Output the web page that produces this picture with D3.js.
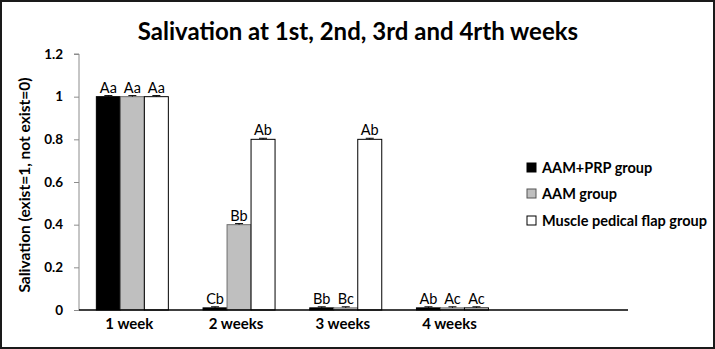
<!DOCTYPE html>
<html>
<head>
<meta charset="utf-8">
<script src="https://cdn.jsdelivr.net/npm/d3@7/dist/d3.min.js"></script>
<style>
  html, body { margin: 0; padding: 0; background: #fff; }
  svg { display: block; }
  text { font-family: Lato, "Open Sans", sans-serif; }
</style>
</head>
<body>
<svg id="chart" width="715" height="349"></svg>
<script>
// Weeks after surgery
const weeks = ["1 week", "2 weeks", "3 weeks", "4 weeks"];
// Group names
const groups = ["AAM+PRP group", "AAM group", "Muscle pedical flap group"];
// Mean salivation score per group (one value per week)
const aamPrp   = [1, 0.01, 0.01, 0.01];
const aam      = [1, 0.4, 0.01, 0.01];
const flap     = [1, 0.8, 0.8, 0.01];
// Error bar half-lengths
const aamPrpErr = [0.005, 0.005, 0.005, 0.005];
const aamErr    = [0.005, 0.005, 0.005, 0.005];
const flapErr   = [0.005, 0.005, 0.005, 0.005];
// Significance letters above each bar
const aamPrpSig = ["Aa", "Cb", "Bb", "Ab"];
const aamSig    = ["Aa", "Bb", "Bc", "Ac"];
const flapSig   = ["Aa", "Ab", "Ab", "Ac"];
// Y tick values and labels
const yTicks = [0, 0.2, 0.4, 0.6, 0.8, 1, 1.2];
const yTickLabels = ["0", "0.2", "0.4", "0.6", "0.8", "1", "1.2"];

const fills = ["#000000", "#bfbfbf", "#ffffff"];

const series = [
  { name: groups[0], values: aamPrp, err: aamPrpErr, sig: aamPrpSig },
  { name: groups[1], values: aam, err: aamErr, sig: aamSig },
  { name: groups[2], values: flap, err: flapErr, sig: flapSig }
];

const svg = d3.select("#chart");
const W = 715, H = 349;

// Outer frame
svg.append("rect")
  .attr("x", 1).attr("y", 1).attr("width", W - 2).attr("height", H - 2)
  .attr("fill", "#fff").attr("stroke", "#1a1a1a").attr("stroke-width", 2);

// Title
svg.append("text")
  .attr("x", 358).attr("y", 40)
  .attr("text-anchor", "middle")
  .attr("font-size", 24).attr("font-weight", 700)
  .attr("fill", "#000")
  .text("Salivation at 1st, 2nd, 3rd and 4rth weeks");

const plotLeft = 79, plotRight = 628, plotTop = 54, plotBottom = 310;
const bandW = 106.7;

const x = d3.scaleBand()
  .domain(weeks)
  .range([plotLeft, plotLeft + bandW * weeks.length])
  .paddingInner(0).paddingOuter(0);
const inner = 72;
const xs = d3.scaleBand()
  .domain(groups)
  .range([(bandW - inner) / 2, (bandW + inner) / 2]);

const y = d3.scaleLinear().domain([0, 1.2]).range([plotBottom, plotTop]);

// Y axis
const yAxis = d3.axisLeft(y)
  .tickValues(yTicks)
  .tickFormat((d, i) => yTickLabels[i])
  .tickSize(5).tickPadding(11);
const ya = svg.append("g").attr("transform", `translate(${plotLeft},0)`).call(yAxis);
ya.select(".domain").attr("stroke", "#8c8c8c").attr("d", `M-5,${plotTop}H0V${plotBottom}`);
ya.selectAll(".tick line").attr("stroke", "#8c8c8c");
ya.selectAll(".tick text")
  .attr("font-family", "Lato, sans-serif")
  .attr("font-size", 13.5).attr("font-weight", 700).attr("fill", "#000");

// Y axis title
svg.append("text")
  .attr("transform", `translate(30,${(plotTop + plotBottom) / 2 + 3}) rotate(-90)`)
  .attr("text-anchor", "middle")
  .attr("font-size", 15.5).attr("font-weight", 700).attr("fill", "#000")
  .text("Salivation (exist=1, not exist=0)");

// Bars
const groupsG = svg.append("g");
series.forEach((s, si) => {
  const g = groupsG.append("g");
  g.selectAll("rect")
    .data(weeks)
    .join("rect")
    .attr("x", (w) => x(w) + xs(s.name))
    .attr("y", (w, i) => y(s.values[i]))
    .attr("width", xs.bandwidth())
    .attr("height", (w, i) => y(0) - y(s.values[i]))
    .attr("fill", fills[si])
    .attr("stroke", si === 1 ? "#6e6e6e" : "#000")
    .attr("stroke-width", 1);

  // Error bars (upper whisker with cap)
  g.selectAll("path.err")
    .data(weeks)
    .join("path")
    .attr("class", "err")
    .attr("d", (w, i) => {
      const cx = x(w) + xs(s.name) + xs.bandwidth() / 2;
      const top = y(s.values[i] + s.err[i]);
      const base = y(s.values[i]);
      return `M${cx},${base}V${top}M${cx - 4},${top}H${cx + 4}`;
    })
    .attr("stroke", "#000").attr("stroke-width", 1).attr("fill", "none");

  // Significance letters
  g.selectAll("text")
    .data(weeks)
    .join("text")
    .attr("x", (w) => x(w) + xs(s.name) + xs.bandwidth() / 2)
    .attr("y", (w, i) => y(s.values[i] + s.err[i]) - 3)
    .attr("text-anchor", "middle")
    .attr("font-size", 14.5).attr("fill", "#000")
    .text((w, i) => s.sig[i]);
});

// X axis line and category labels
const xAxis = d3.axisBottom(x).tickSize(0).tickPadding(8);
const xa = svg.append("g").attr("transform", `translate(0,${plotBottom})`).call(xAxis);
xa.select(".domain").attr("stroke", "#000").attr("stroke-width", 1.3)
  .attr("d", `M${plotLeft},0H${plotRight}`);
xa.selectAll(".tick text")
  .attr("font-family", "Lato, sans-serif")
  .attr("font-size", 15).attr("font-weight", 700).attr("fill", "#000")
  .attr("dy", "0.75em")
  .attr("dx", -3);

// Legend
const legend = svg.append("g").attr("transform", "translate(527,0)");
const legendY = [168, 194, 221];
groups.forEach((gname, i) => {
  legend.append("rect")
    .attr("x", 0).attr("y", legendY[i] - 5).attr("width", 9).attr("height", 9)
    .attr("fill", fills[i]).attr("stroke", i === 1 ? "#555" : "#000").attr("stroke-width", 1);
  legend.append("text")
    .attr("x", 15).attr("y", legendY[i])
    .attr("dy", "0.35em")
    .attr("font-size", 14.5).attr("font-weight", 700).attr("fill", "#000")
    .text(gname);
});
</script>
</body>
</html>
